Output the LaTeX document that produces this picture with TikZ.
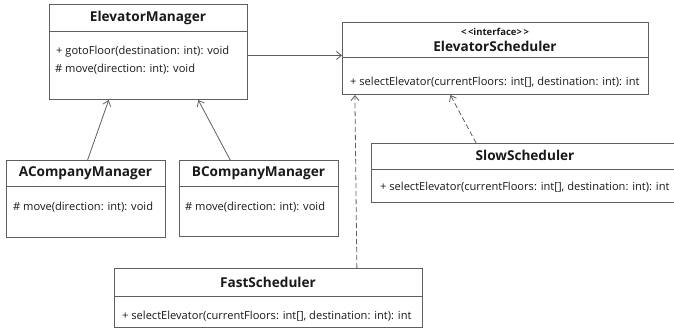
\documentclass[tikz,border=0pt]{standalone}
\usepackage{fontspec}
\setmainfont{Open Sans}
\usetikzlibrary{arrows.meta,calc}

\definecolor{edge}{RGB}{95,95,95}
\definecolor{ink}{RGB}{25,25,25}

\tikzset{
  classbox/.style={draw=edge, line width=1pt, fill=white, rectangle, anchor=north west, inner sep=0pt},
  divider/.style={draw=edge, line width=1pt},
  cname/.style={font=\fontsize{13.6}{15}\selectfont\bfseries, text=ink, inner sep=0pt},
  stereo/.style={font=\fontsize{9.5}{10}\selectfont\bfseries, text=ink, inner sep=0pt},
  member/.style={font=\fontsize{11.1}{13}\selectfont, text=ink, inner sep=0pt, anchor=west},
  assoc/.style={draw=edge, line width=0.8pt, -{Straight Barb[length=5pt,width=8pt]}},
  inherit/.style={draw=edge, line width=0.8pt, -{Straight Barb[length=5pt,width=8pt]}},
  realize/.style={draw=edge, line width=0.8pt, dash pattern=on 5pt off 3pt, -{Straight Barb[length=5pt,width=8pt]}},
}

\begin{document}
\begin{tikzpicture}[x=1pt, y=-1pt]
\useasboundingbox (0,0) rectangle (674,330);
\clip (0,0) rectangle (674,330);

% ElevatorManager
\node[classbox, minimum width=198pt, minimum height=95pt] (em) at (49,4) {};
\draw[divider] (49,31) -- (247,31);
\node[cname] (emn) at (148,17.5) {ElevatorManager};
\node[member] (em1) at (56,52) {+ gotoFloor(destination: int): void};
\node[member] (em2) at (55,69) {\# move(direction: int): void};

% ElevatorScheduler (interface)
\node[classbox, minimum width=306pt, minimum height=72pt] (es) at (342,22) {};
\draw[divider] (342,57) -- (648,57);
\node[stereo] (ess) at (495,32) {<\,<interface>\,>};
\node[cname] (esn) at (495,46) {ElevatorScheduler};
\node[member] (es1) at (350,82) {+ selectElevator(currentFloors: int[], destination: int): int};

% ACompanyManager
\node[classbox, minimum width=159pt, minimum height=77pt] (am) at (6,160) {};
\draw[divider] (6,186) -- (165,186);
\node[cname] (amn) at (85.5,173) {ACompanyManager};
\node[member] (am1) at (13,207) {\# move(direction: int): void};

% BCompanyManager
\node[classbox, minimum width=159pt, minimum height=76pt] (bm) at (179,160) {};
\draw[divider] (179,186) -- (338,186);
\node[cname] (bmn) at (258.5,173) {BCompanyManager};
\node[member] (bm1) at (185,207) {\# move(direction: int): void};

% SlowScheduler
\node[classbox, minimum width=308pt, minimum height=59pt] (ss) at (371,143) {};
\draw[divider] (371,169) -- (679,169);
\node[cname] (ssn) at (525,155) {SlowScheduler};
\node[member] (ss1) at (380,187) {+ selectElevator(currentFloors: int[], destination: int): int};

% FastScheduler
\node[classbox, minimum width=308pt, minimum height=59pt] (fs) at (114,268) {};
\draw[divider] (114,296) -- (422,296);
\node[cname] (fsn) at (268,282) {FastScheduler};
\node[member] (fs1) at (122,316) {+ selectElevator(currentFloors: int[], destination: int): int};

% association
\draw[assoc] ($(em.north east)!0.537!(em.south east)$) -- ($(es.north west)!0.458!(es.south west)$);
% generalisations
\draw[inherit] ($(am.north west)!0.51!(am.north east)$) -- ($(em.south west)!0.30!(em.south east)$);
\draw[inherit] ($(bm.north west)!0.32!(bm.north east)$) -- ($(em.south west)!0.75!(em.south east)$);
% realisations
\draw[realize] ($(ss.north west)!0.34!(ss.north east)$) -- ($(es.south west)!0.353!(es.south east)$);
\draw[realize] ($(fs.north west)!0.786!(fs.north east)$) -- ($(es.south west)!0.042!(es.south east)$);
\end{tikzpicture}
\end{document}
